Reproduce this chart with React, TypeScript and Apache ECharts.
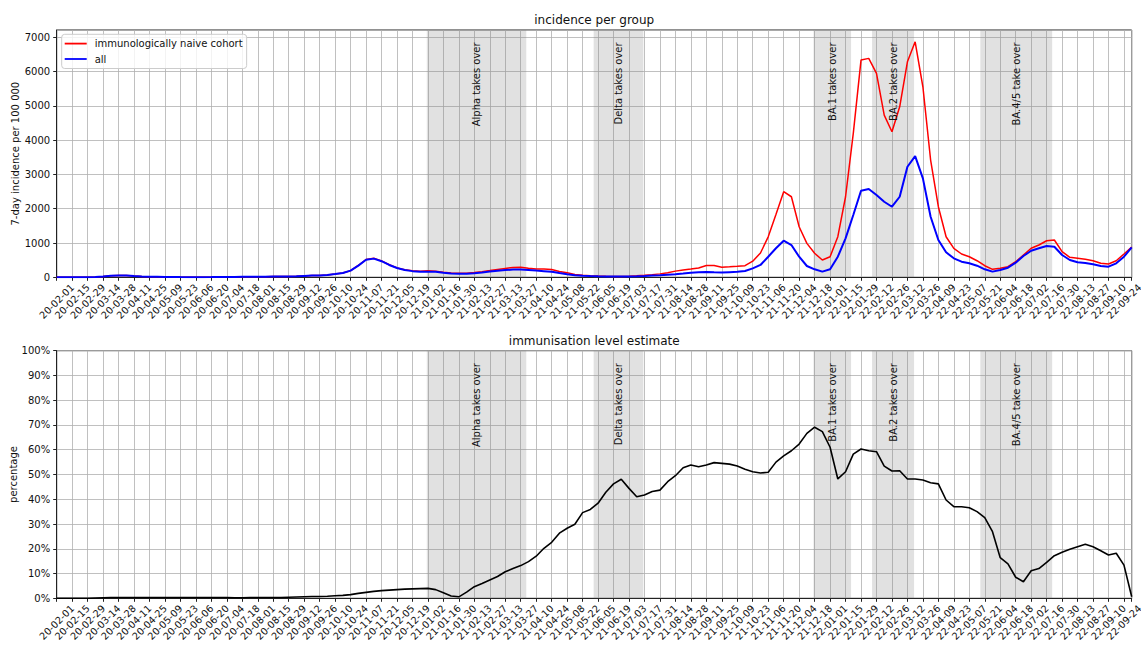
import React, { useEffect, useRef } from 'react';
import * as echarts from 'echarts';

const START_DATE = '2020-02-01';
const DAYS_PER_WEEK = 7;
const TICK_STEP_DAYS = 14;
const FONT = '"DejaVu Sans", Verdana, sans-serif';

// tick labels (every 14 days from 2020-02-01)
const tickLabels = [
  '20-02-01', '20-02-15', '20-02-29', '20-03-14', '20-03-28', '20-04-11', '20-04-25', '20-05-09',
  '20-05-23', '20-06-06', '20-06-20', '20-07-04', '20-07-18', '20-08-01', '20-08-15', '20-08-29',
  '20-09-12', '20-09-26', '20-10-10', '20-10-24', '20-11-07', '20-11-21', '20-12-05', '20-12-19',
  '21-01-02', '21-01-16', '21-01-30', '21-02-13', '21-02-27', '21-03-13', '21-03-27', '21-04-10',
  '21-04-24', '21-05-08', '21-05-22', '21-06-05', '21-06-19', '21-07-03', '21-07-17', '21-07-31',
  '21-08-14', '21-08-28', '21-09-11', '21-09-25', '21-10-09', '21-10-23', '21-11-06', '21-11-20',
  '21-12-04', '21-12-18', '22-01-01', '22-01-15', '22-01-29', '22-02-12', '22-02-26', '22-03-12',
  '22-03-26', '22-04-09', '22-04-23', '22-05-07', '22-05-21', '22-06-04', '22-06-18', '22-07-02',
  '22-07-16', '22-07-30', '22-08-13', '22-08-27', '22-09-10', '22-09-24',
];

// weekly values, first week = 2020-02-01
const naiveCohortIncidence = [
  0, 0, 0, 0, 2, 8, 25, 45, 55, 50,
  35, 25, 18, 14, 10, 8, 6, 5, 5, 5,
  6, 8, 10, 12, 14, 15, 16, 18, 20, 22,
  25, 30, 40, 50, 55, 70, 95, 125, 195, 345,
  520, 555, 480, 365, 275, 220, 190, 175, 190, 180,
  145, 125, 115, 120, 140, 165, 195, 230, 260, 285,
  290, 265, 245, 240, 225, 170, 130, 85, 60, 45,
  35, 27, 22, 25, 30, 42, 58, 78, 100, 135,
  180, 215, 240, 270, 345, 345, 295, 305, 320, 340,
  470, 710, 1180, 1830, 2497, 2350, 1476, 990, 700, 505,
  600, 1184, 2350, 4200, 6337, 6387, 5950, 4733, 4246, 4975,
  6288, 6871, 5558, 3421, 2059, 1184, 846, 680, 600, 484,
  338, 233, 262, 309, 455, 650, 846, 942, 1067, 1088,
  747, 583, 554, 525, 484, 408, 388, 484, 680, 880,
];

const allIncidence = [
  0, 0, 0, 0, 2, 8, 25, 45, 55, 50,
  35, 25, 18, 14, 10, 8, 6, 5, 5, 5,
  6, 8, 10, 12, 14, 15, 16, 18, 20, 22,
  25, 30, 40, 50, 55, 70, 95, 125, 195, 340,
  510, 545, 470, 360, 270, 215, 180, 160, 165, 160,
  130, 110, 100, 105, 120, 140, 170, 190, 210, 225,
  230, 215, 195, 180, 165, 125, 90, 60, 48, 38,
  30, 24, 20, 20, 20, 28, 38, 50, 60, 75,
  90, 110, 135, 150, 155, 145, 140, 150, 160, 185,
  260, 360, 600, 846, 1067, 942, 600, 330, 233, 165,
  233, 600, 1137, 1817, 2526, 2575, 2400, 2205, 2059, 2350,
  3225, 3537, 2887, 1767, 1088, 729, 554, 455, 408, 338,
  233, 165, 213, 280, 426, 621, 776, 846, 913, 892,
  650, 505, 437, 417, 379, 330, 309, 408, 600, 870,
];

const immunisationLevel = [
  0, 0, 0, 0, 0, 0.1, 0.2, 0.3, 0.3, 0.3,
  0.3, 0.3, 0.3, 0.3, 0.3, 0.3, 0.3, 0.3, 0.3, 0.3,
  0.3, 0.3, 0.3, 0.2, 0.2, 0.3, 0.3, 0.3, 0.3, 0.3,
  0.4, 0.5, 0.6, 0.7, 0.7, 0.8, 1.0, 1.2, 1.5, 2.0,
  2.4, 2.8, 3.1, 3.3, 3.5, 3.7, 3.8, 3.9, 4.0, 3.5,
  2.2, 0.9, 0.6, 2.5, 4.7, 6.0, 7.4, 8.8, 10.7, 12.0,
  13.2, 14.8, 17.0, 20.2, 22.6, 26.3, 28.3, 29.9, 34.6, 35.9,
  38.4, 42.8, 46.2, 48.1, 44.4, 41.0, 41.7, 43.1, 43.7, 47.1,
  49.5, 52.7, 53.8, 53.1, 53.8, 54.8, 54.5, 54.2, 53.4, 52.1,
  51.1, 50.6, 50.9, 55.0, 57.5, 59.6, 62.3, 66.6, 69.1, 67.3,
  61.0, 48.2, 51.1, 58.2, 60.3, 59.6, 59.2, 53.4, 51.4, 51.5,
  48.2, 48.2, 47.8, 46.7, 46.2, 39.7, 37.0, 37.0, 36.6, 35.0,
  32.6, 26.9, 16.4, 13.9, 8.5, 6.7, 11.1, 12.0, 14.5, 17.2,
  18.6, 19.8, 20.8, 21.8, 20.8, 19.2, 17.5, 18.2, 13.4, 0.6,
];

const variantLabels = ['Alpha takes over', 'Delta takes over', 'BA.1 takes over', 'BA.2 takes over', 'BA.4/5 take over'];
const variantStarts = ['2021-01-01', '2021-06-01', '2021-12-17', '2022-02-08', '2022-05-17'];
const variantEnds = ['2021-04-01', '2021-07-16', '2022-01-20', '2022-03-18', '2022-07-21'];

const dayOf = (d: string) => Math.round((Date.parse(d) - Date.parse(START_DATE)) / 86400000);

export default function App() {
  const ref = useRef<HTMLDivElement>(null);

  useEffect(() => {
    if (!ref.current) return;
    const chart = echarts.init(ref.current, undefined, { renderer: 'svg' });

    const lastDay = (naiveCohortIncidence.length - 1) * DAYS_PER_WEEK;
    const topMax = Math.max(...naiveCohortIncidence) * 1.05;
    const toXY = (arr: number[]) => arr.map((v, i) => [i * DAYS_PER_WEEK, v]);
    const spans = variantLabels.map((label, i) => ({
      label,
      from: dayOf(variantStarts[i]),
      to: dayOf(variantEnds[i]),
    }));

    const textStyle = { color: '#111', fontFamily: FONT, fontSize: 10 };
    const axisLineStyle = { color: '#222', width: 1 };

    const makeX = (gridIndex: number) => ({
      type: 'value',
      gridIndex,
      min: 0,
      max: lastDay,
      interval: TICK_STEP_DAYS,
      axisLine: { show: true, onZero: false, lineStyle: axisLineStyle },
      axisTick: { show: true, length: 3.5, lineStyle: axisLineStyle },
      axisLabel: {
        ...textStyle,
        fontSize: 9.8,
        lineHeight: 9,
        rotate: 45,
        align: 'center',
        verticalAlign: 'middle',
        margin: 24,
        formatter: (v: number) => (v % TICK_STEP_DAYS === 0 ? tickLabels[v / TICK_STEP_DAYS] ?? '' : ''),
      },
      splitLine: { show: true, lineStyle: { color: '#b0b0b0', width: 0.8 } },
    });

    const markArea = {
      silent: true,
      itemStyle: { color: 'rgba(128,128,128,0.24)' },
      label: { show: false },
      data: spans.map((s) => [{ xAxis: s.from }, { xAxis: s.to }]),
    };

    const gridBase = {
      left: 56.7,
      width: 1075,
      show: true,
      borderColor: '#222',
      borderWidth: 1,
      backgroundColor: 'transparent',
      containLabel: false,
      outerBoundsMode: 'none',
    };

    chart.setOption({
      animation: false,
      backgroundColor: '#ffffff',
      textStyle: { fontFamily: FONT },
      grid: [
        { ...gridBase, top: 30, height: 247.3 },
        { ...gridBase, top: 350.7, height: 247.6 },
      ],
      xAxis: [makeX(0), makeX(1)],
      yAxis: [
        {
          type: 'value',
          gridIndex: 0,
          min: 0,
          max: topMax,
          interval: 1000,
          name: '7-day incidence per 100 000',
          nameLocation: 'middle',
          nameGap: 36,
          nameMoveOverlap: false,
          nameTextStyle: textStyle,
          axisLine: { show: true, lineStyle: axisLineStyle },
          axisTick: { show: true, length: 3.5, lineStyle: axisLineStyle },
          axisLabel: { ...textStyle, margin: 6.5, showMaxLabel: false, formatter: (v: number) => String(v) },
          splitLine: { show: true, lineStyle: { color: '#b0b0b0', width: 0.8 } },
        },
        {
          type: 'value',
          gridIndex: 1,
          min: 0,
          max: 100,
          interval: 10,
          name: 'percentage',
          nameLocation: 'middle',
          nameGap: 38,
          nameMoveOverlap: false,
          nameTextStyle: textStyle,
          axisLine: { show: true, lineStyle: axisLineStyle },
          axisTick: { show: true, length: 3.5, lineStyle: axisLineStyle },
          axisLabel: { ...textStyle, margin: 6.5, formatter: (v: number) => `${v}%` },
          splitLine: { show: true, lineStyle: { color: '#b0b0b0', width: 0.8 } },
        },
      ],
      legend: {
        data: ['immunologically naive cohort', 'all'],
        icon: 'rect',
        orient: 'vertical',
        left: 61.7,
        top: 34.3,
        itemWidth: 22,
        itemHeight: 1.8,
        itemGap: 5.4,
        padding: [4.3, 4, 4.5, 3],
        borderColor: '#cccccc',
        borderWidth: 1,
        borderRadius: 3,
        backgroundColor: 'rgba(255,255,255,0.8)',
        textStyle: { ...textStyle, padding: [0, 0, 0, 3] },
        selectedMode: false,
      },
      series: [
        {
          name: 'immunologically naive cohort',
          type: 'line',
          xAxisIndex: 0,
          yAxisIndex: 0,
          data: toXY(naiveCohortIncidence),
          symbol: 'none',
          lineStyle: { color: '#ff0000', width: 1.5 },
          itemStyle: { color: '#ff0000' },
          markArea,
          z: 3,
        },
        {
          name: 'all',
          type: 'line',
          xAxisIndex: 0,
          yAxisIndex: 0,
          data: toXY(allIncidence),
          symbol: 'none',
          lineStyle: { color: '#0000ff', width: 2 },
          itemStyle: { color: '#0000ff' },
          z: 4,
        },
        {
          name: 'immunisation level estimate',
          type: 'line',
          xAxisIndex: 1,
          yAxisIndex: 1,
          data: toXY(immunisationLevel),
          symbol: 'none',
          lineStyle: { color: '#000000', width: 1.6 },
          itemStyle: { color: '#000000' },
          markArea,
          z: 3,
        },
      ],
    });

    const elements: any[] = [];
    const titles = ['incidence per group', 'immunisation level estimate'];
    const topValue = [topMax * 0.95, 95];
    [0, 1].forEach((g) => {
      const x0 = chart.convertToPixel({ xAxisIndex: g }, 0) as number;
      const x1 = chart.convertToPixel({ xAxisIndex: g }, lastDay) as number;
      const yTop = chart.convertToPixel({ yAxisIndex: g }, g === 0 ? topMax : 100) as number;
      elements.push({
        type: 'text',
        x: (x0 + x1) / 2,
        y: yTop - 10,
        silent: true,
        style: { text: titles[g], fill: '#111', fontFamily: FONT, fontSize: 12, align: 'center', verticalAlign: 'middle' },
      });
      spans.forEach((s) => {
        elements.push({
          type: 'text',
          x: chart.convertToPixel({ xAxisIndex: g }, (s.from + s.to) / 2) as number,
          y: chart.convertToPixel({ yAxisIndex: g }, topValue[g]) as number,
          rotation: Math.PI / 2,
          silent: true,
          z: 10,
          style: { text: s.label, fill: '#111', fontFamily: FONT, fontSize: 10, align: 'right', verticalAlign: 'middle' },
        });
      });
    });
    chart.setOption({ graphic: { elements } });

    return () => chart.dispose();
  }, []);

  return (
    <div
      ref={ref}
      style={{ position: 'fixed', left: 0, top: 0, width: 1141, height: 646, background: '#fff' }}
    />
  );
}
